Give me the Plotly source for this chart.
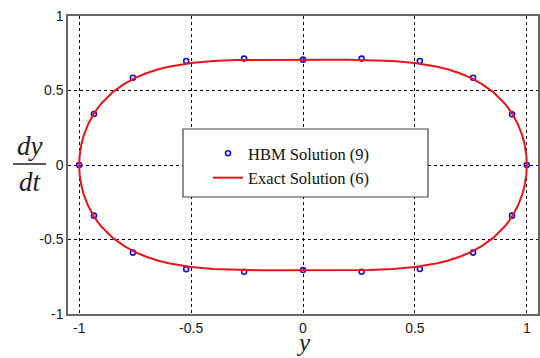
import plotly.graph_objects as go

# Exact solution curve, upper branch then lower branch
exact_y_upper = [-1.0, -0.998, -0.99, -0.98, -0.96, -0.94, -0.92, -0.9, -0.85, -0.8, -0.75, -0.7, -0.65,
                 -0.6, -0.5, -0.4, -0.3, -0.2, -0.1, 0.0, 0.1, 0.2, 0.3, 0.4, 0.5, 0.6, 0.65, 0.7,
                 0.75, 0.8, 0.85, 0.9, 0.92, 0.94, 0.96, 0.98, 0.99, 0.998, 1.0]
exact_v_upper = [0.0, 0.063, 0.140, 0.197, 0.274, 0.331, 0.377, 0.415, 0.489, 0.543, 0.585, 0.616, 0.641,
                 0.660, 0.685, 0.698, 0.704, 0.706, 0.707, 0.707, 0.707, 0.706, 0.704, 0.698, 0.685, 0.660,
                 0.641, 0.616, 0.585, 0.543, 0.489, 0.415, 0.377, 0.331, 0.274, 0.197, 0.140, 0.063, 0.0]
exact_y_lower = [1.0, 0.998, 0.99, 0.98, 0.96, 0.94, 0.92, 0.9, 0.85, 0.8, 0.75, 0.7, 0.65,
                 0.6, 0.5, 0.4, 0.3, 0.2, 0.1, 0.0, -0.1, -0.2, -0.3, -0.4, -0.5, -0.6, -0.65, -0.7,
                 -0.75, -0.8, -0.85, -0.9, -0.92, -0.94, -0.96, -0.98, -0.99, -0.998, -1.0]
exact_v_lower = [0.0, -0.063, -0.140, -0.197, -0.274, -0.331, -0.377, -0.415, -0.489, -0.543, -0.585,
                 -0.616, -0.641, -0.660, -0.685, -0.698, -0.704, -0.706, -0.707, -0.707, -0.707, -0.706,
                 -0.704, -0.698, -0.685, -0.660, -0.641, -0.616, -0.585, -0.543, -0.489, -0.415, -0.377,
                 -0.331, -0.274, -0.197, -0.140, -0.063, 0.0]

# HBM solution points
hbm_y = [-1.0, -0.934, -0.76, -0.522, -0.263, 0.0, 0.262, 0.522, 0.76, 0.934, 1.0,
         0.934, 0.76, 0.522, 0.262, 0.0, -0.263, -0.522, -0.76, -0.934]
hbm_v = [0.0, 0.342, 0.586, 0.698, 0.714, 0.707, 0.714, 0.698, 0.586, 0.34, 0.0,
         -0.34, -0.588, -0.698, -0.716, -0.705, -0.716, -0.70, -0.588, -0.34]

x_ticks = [-1, -0.5, 0, 0.5, 1]
x_tick_labels = ["-1", "-0.5", "0", "0.5", "1"]
y_ticks = [-1, -0.5, 0, 0.5, 1]
y_tick_labels = ["-1", "-0.5", "0", "0.5", "1"]

L, R, T, B = 68, 2, 16, 44
W, H = 540, 358
pw, ph = W - L - R, H - T - B


def px2x(px):
    return (px - L) / pw


def py2y(py):
    return 1 - (py - T) / ph


fig = go.Figure()
fig.add_trace(go.Scatter(
    x=hbm_y, y=hbm_v, mode="markers", name="HBM Solution (9)", legendgroup="a",
    marker=dict(symbol="circle-open", size=5, color="#1010e0", line=dict(width=1.6)),
))
fig.add_trace(go.Scatter(
    x=exact_y_upper + exact_y_lower, y=exact_v_upper + exact_v_lower, mode="lines",
    name="Exact Solution (6)", legendgroup="b", line=dict(color="#e8141c", width=2),
))

axis_common = dict(
    showgrid=True, gridcolor="black", griddash="dot", gridwidth=1, automargin=False,
    zeroline=False, showline=True, linecolor="#666666", linewidth=1.5, mirror=True,
    ticks="", tickfont=dict(family="Liberation Sans, Arial", size=14, color="#1a1a1a"),
)
fig.update_xaxes(range=[-1.05, 1.05], tickvals=x_ticks, ticktext=x_tick_labels, **axis_common)
fig.update_yaxes(range=[-1, 1], tickvals=y_ticks, ticktext=y_tick_labels, **axis_common)

fig.update_layout(
    width=W, height=H,
    margin=dict(l=L, r=R, t=T, b=B, autoexpand=False),
    plot_bgcolor="white", paper_bgcolor="white",
    legend=dict(
        x=px2x(208), y=py2y(136), xanchor="left", yanchor="top",
        bgcolor="rgba(0,0,0,0)", borderwidth=0,
        font=dict(family="Liberation Serif", size=16.5, color="#111111"),
        tracegroupgap=0,
    ),
    annotations=[
        dict(text="<i>dy</i>", x=px2x(30), y=py2y(146), xref="paper", yref="paper", showarrow=False,
             xanchor="center", yanchor="middle",
             font=dict(family="Liberation Serif", size=27, color="#222222")),
        dict(text="<i>dt</i>", x=px2x(30), y=py2y(182), xref="paper", yref="paper", showarrow=False,
             xanchor="center", yanchor="middle",
             font=dict(family="Liberation Serif", size=27, color="#222222")),
        dict(text="<i>y</i>", x=px2x(303), y=py2y(342), xref="paper", yref="paper", showarrow=False,
             xanchor="center", yanchor="middle",
             font=dict(family="Liberation Serif", size=25, color="#222222")),
    ],
    shapes=[
        dict(type="line", xref="paper", yref="paper", x0=px2x(13), x1=px2x(46),
             y0=py2y(164), y1=py2y(164), line=dict(color="#222222", width=1.5)),
        dict(type="rect", xref="paper", yref="paper", x0=px2x(183), x1=px2x(428),
             y0=py2y(129), y1=py2y(197), layer="above", fillcolor="white",
             line=dict(color="#444444", width=1.2)),
    ],
)

fig.write_html("out.html", config={"displayModeBar": False},
               post_script="document.body.style.margin='0';document.body.style.overflow='hidden';")
